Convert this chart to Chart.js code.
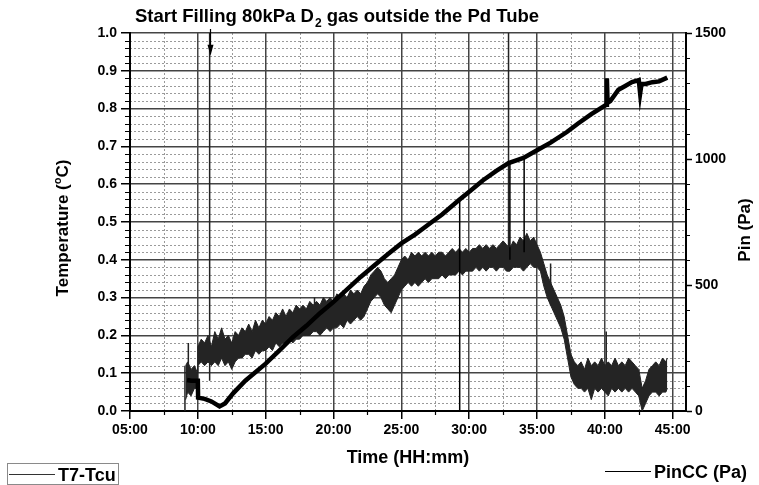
<!DOCTYPE html>
<html>
<head>
<meta charset="utf-8">
<script src="https://cdn.jsdelivr.net/npm/chart.js@4.4.0/dist/chart.umd.min.js"></script>
<style>
  html, body { margin: 0; padding: 0; background: #fff; }
  canvas { display: block; }
</style>
</head>
<body>
<canvas id="chart" width="759" height="485"></canvas>
<script>
// axis ticks (time in hours, shown as HH:mm)
const xTicks = [5, 10, 15, 20, 25, 30, 35, 40, 45];
const xTickLabels = ['05:00', '10:00', '15:00', '20:00', '25:00', '30:00', '35:00', '40:00', '45:00'];
const yTicks = [0, 0.1, 0.2, 0.3, 0.4, 0.5, 0.6, 0.7, 0.8, 0.9, 1.0];
const yTickLabels = ['0.0', '0.1', '0.2', '0.3', '0.4', '0.5', '0.6', '0.7', '0.8', '0.9', '1.0'];
const y2Ticks = [0, 500, 1000, 1500];
const y2TickLabels = ['0', '500', '1000', '1500'];

// PinCC (Pa), right axis
const pinTime = [9.2, 9.5, 10.0, 10.02, 10.5, 11.0, 11.6, 12.0, 12.6, 13.5,
  15.0, 16.0, 17.0, 18.0, 19.0, 20.0, 21.0, 22.0, 23.0, 24.0,
  25.0, 26.0, 27.0, 28.0, 29.25, 30.0, 31.0, 32.0, 32.9, 34.0,
  35.0, 36.0, 37.2, 38.0, 39.0, 40.1, 40.15, 40.2, 40.4, 41.0,
  41.5, 42.0, 42.5, 42.6, 42.7, 43.0, 43.5, 44.0, 44.6];
const pinPa = [123, 120, 120, 53, 48, 38, 18, 30, 70, 120,
  188, 240, 293, 338, 388, 433, 483, 532, 577, 622,
  665, 700, 740, 780, 837, 870, 915, 953, 984, 1004,
  1035, 1065, 1107, 1140, 1178, 1215, 1320, 1223, 1230, 1275,
  1290, 1305, 1313, 1260, 1298, 1298, 1305, 1308, 1323];
const pinSpikeTime = [29.3, 33.0, 34.05];
const pinSpikeFrom = [840, 985, 1005];
const pinSpikeTo = [0, 600, 630];

// T7-Tcu (°C), left axis: upper / lower edge of the noisy trace
const t7Time = [9.1, 9.25, 9.5, 9.75, 9.98, 10.0, 10.25, 10.5, 10.75, 11.0,
  11.25, 11.5, 11.75, 12.0, 12.25, 12.5, 12.75, 13.0, 13.25, 13.5,
  13.75, 14.0, 14.25, 14.5, 14.75, 15.0, 15.25, 15.5, 15.75, 16.0,
  16.25, 16.5, 16.75, 17.0, 17.25, 17.5, 17.75, 18.0, 18.25, 18.5,
  18.75, 19.0, 19.25, 19.5, 19.75, 20.0, 20.25, 20.5, 20.75, 21.0,
  21.25, 21.5, 21.75, 22.0, 22.25, 22.5, 22.75, 23.0, 23.25, 23.5,
  23.75, 24.0, 24.25, 24.5, 24.75, 25.0, 25.25, 25.5, 25.75, 26.0,
  26.25, 26.5, 26.75, 27.0, 27.25, 27.5, 27.75, 28.0, 28.25, 28.5,
  28.75, 29.0, 29.25, 29.5, 29.75, 30.0, 30.25, 30.5, 30.75, 31.0,
  31.25, 31.5, 31.75, 32.0, 32.25, 32.5, 32.75, 33.0, 33.25, 33.5,
  33.75, 34.0, 34.25, 34.5, 34.75, 35.0, 35.25, 35.5, 35.75, 36.0,
  36.25, 36.5, 36.75, 37.0, 37.25, 37.5, 37.75, 38.0, 38.25, 38.5,
  38.75, 39.0, 39.25, 39.5, 39.75, 40.0, 40.25, 40.5, 40.75, 41.0,
  41.25, 41.5, 41.75, 42.0, 42.25, 42.5, 42.75, 43.0, 43.25, 43.5,
  43.75, 44.0, 44.25, 44.5, 44.6];
const t7High = [.12, .13, .11, .12, .10, .17, .19, .18, .20, .17,
  .21, .19, .22, .19, .20, .18, .21, .20, .22, .21,
  .23, .21, .24, .22, .24, .23, .25, .24, .26, .25,
  .27, .25, .27, .26, .28, .27, .28, .27, .29, .28,
  .29, .28, .30, .29, .30, .29, .31, .30, .31, .30,
  .32, .31, .32, .31, .33, .34, .36, .37, .38, .37,
  .35, .34, .35, .36, .38, .40, .41, .40, .42, .41,
  .42, .41, .42, .41, .42, .41, .42, .42, .41, .42,
  .43, .42, .43, .42, .43, .42, .43, .43, .44, .43,
  .44, .43, .44, .43, .44, .45, .44, .43, .45, .44,
  .46, .45, .47, .45, .46, .44, .42, .39, .36, .34,
  .32, .30, .28, .25, .20, .15, .13, .12, .13, .11,
  .14, .12, .13, .12, .14, .12, .13, .12, .14, .12,
  .13, .12, .14, .13, .12, .11, .06, .08, .11, .12,
  .13, .12, .14, .13, .14];
const t7Low = [.03, .05, .04, .06, .06, .12, .13, .12, .13, .12,
  .13, .12, .14, .12, .13, .11, .13, .14, .14, .15,
  .15, .14, .16, .15, .16, .16, .17, .16, .18, .17,
  .18, .18, .19, .18, .19, .19, .20, .20, .20, .21,
  .21, .20, .21, .22, .21, .22, .22, .23, .22, .24,
  .23, .24, .25, .24, .25, .27, .29, .30, .31, .30,
  .28, .27, .26, .28, .30, .32, .33, .34, .33, .34,
  .33, .34, .35, .34, .35, .35, .35, .36, .35, .36,
  .36, .36, .37, .36, .37, .37, .37, .38, .37, .38,
  .37, .38, .38, .37, .38, .38, .37, .37, .38, .38,
  .38, .37, .38, .39, .38, .38, .37, .33, .30, .28,
  .26, .24, .22, .19, .14, .09, .07, .06, .06, .05,
  .06, .03, .06, .05, .06, .05, .04, .06, .05, .06,
  .05, .06, .05, .06, .05, .04, .00, .02, .04, .05,
  .05, .04, .05, .05, .06];
const t7SpikeTime = [9.05, 9.3, 10.87, 18.6, 32.9, 36.0, 40.1];
const t7SpikeFrom = [0.0, 0.05, 0.08, 0.22, 0.37, 0.28, 0.10];
const t7SpikeTo = [0.12, 0.18, 1.05, 0.30, 1.05, 0.39, 0.21];

// "start filling" arrow
const arrowTime = 10.87;
const arrowTip = 0.94;

const FONT = '"Liberation Sans", Arial, Helvetica, sans-serif';

function xy(times, vals) {
  return times.map((t, i) => ({ x: t, y: vals[i] }));
}
function spikes(times, from, to) {
  const pts = [];
  times.forEach((t, i) => {
    pts.push({ x: t, y: from[i] }, { x: t, y: to[i] }, { x: t, y: null });
  });
  return pts;
}

const extras = {
  id: 'extras',
  beforeDraw(chart) {
    const { ctx, chartArea: a, scales: { x, y } } = chart;
    ctx.save();
    ctx.fillStyle = '#fff';
    ctx.fillRect(0, 0, chart.width, chart.height);
    // dotted minor grid
    ctx.strokeStyle = '#9a9a9a';
    ctx.lineWidth = 1;
    ctx.setLineDash([2, 2]);
    ctx.beginPath();
    for (let v = 7.5; v < 46; v += 5) {
      const px = Math.round(x.getPixelForValue(v)) + 0.5;
      ctx.moveTo(px, a.top); ctx.lineTo(px, a.bottom);
    }
    for (let k = 1; k < 50; k++) {
      if (k % 5 === 0) continue;
      const py = Math.round(y.getPixelForValue(k * 0.02)) + 0.5;
      ctx.moveTo(a.left, py); ctx.lineTo(a.right, py);
    }
    ctx.stroke();
    ctx.restore();
  },
  afterDraw(chart) {
    const { ctx, chartArea: a, scales: { x, y, y2 } } = chart;
    ctx.save();
    // minor ticks
    ctx.strokeStyle = '#000';
    ctx.lineWidth = 1.2;
    ctx.beginPath();
    for (let v = 7.5; v < 46; v += 5) {
      const px = Math.round(x.getPixelForValue(v)) + 0.5;
      ctx.moveTo(px, a.bottom); ctx.lineTo(px, a.bottom + 4);
    }
    for (let k = 1; k < 50; k++) {
      if (k % 5 === 0) continue;
      const py = Math.round(y.getPixelForValue(k * 0.02)) + 0.5;
      ctx.moveTo(a.left, py); ctx.lineTo(a.left - 5, py);
    }
    for (let p = 100; p < 1500; p += 100) {
      if (p % 500 === 0) continue;
      const py = Math.round(y2.getPixelForValue(p)) + 0.5;
      ctx.moveTo(a.right, py); ctx.lineTo(a.right + 4, py);
    }
    ctx.stroke();

    // arrow
    const ax = Math.round(x.getPixelForValue(arrowTime)) + 0.5;
    const tipY = y.getPixelForValue(arrowTip);
    ctx.lineWidth = 1.2;
    ctx.beginPath();
    ctx.moveTo(ax, a.top - 4); ctx.lineTo(ax, tipY - 8);
    ctx.stroke();
    ctx.fillStyle = '#000';
    ctx.beginPath();
    ctx.moveTo(ax - 3, tipY - 11); ctx.lineTo(ax + 3, tipY - 11); ctx.lineTo(ax, tipY);
    ctx.closePath(); ctx.fill();

    ctx.fillStyle = '#000';
    ctx.textBaseline = 'alphabetic';
    // title with subscript
    let tx = 135;
    const ty = 22;
    ctx.textAlign = 'left';
    ctx.font = 'bold 18.5px ' + FONT;
    const t1 = 'Start Filling 80kPa D';
    ctx.fillText(t1, tx, ty);
    tx += ctx.measureText(t1).width + 1;
    ctx.font = 'bold 12px ' + FONT;
    ctx.fillText('2', tx, ty + 5);
    tx += ctx.measureText('2').width;
    ctx.font = 'bold 18.5px ' + FONT;
    ctx.fillText(' gas outside the Pd Tube', tx, ty);

    // x title
    ctx.textAlign = 'center';
    ctx.font = 'bold 18px ' + FONT;
    ctx.fillText('Time (HH:mm)', (a.left + a.right) / 2, 463);

    // left title with superscript
    ctx.save();
    ctx.translate(68, 228);
    ctx.rotate(-Math.PI / 2);
    ctx.textAlign = 'left';
    ctx.font = 'bold 17px ' + FONT;
    const l1 = 'Temperature (', l3 = 'C)';
    const w1 = ctx.measureText(l1).width, w3 = ctx.measureText(l3).width;
    ctx.font = 'bold 11px ' + FONT;
    const w2 = ctx.measureText('o').width;
    let lx = -(w1 + w2 + w3) / 2;
    ctx.font = 'bold 17px ' + FONT;
    ctx.fillText(l1, lx, 0); lx += w1;
    ctx.font = 'bold 11px ' + FONT;
    ctx.fillText('o', lx, -7); lx += w2;
    ctx.font = 'bold 17px ' + FONT;
    ctx.fillText(l3, lx, 0);
    ctx.restore();

    // right title
    ctx.save();
    ctx.translate(750, 230);
    ctx.rotate(-Math.PI / 2);
    ctx.textAlign = 'center';
    ctx.font = 'bold 17px ' + FONT;
    ctx.fillText('Pin (Pa)', 0, 0);
    ctx.restore();

    // legends
    ctx.textAlign = 'left';
    ctx.strokeStyle = '#8a8a8a';
    ctx.lineWidth = 1;
    ctx.strokeRect(7.5, 463.5, 111, 21);
    ctx.strokeStyle = '#333';
    ctx.beginPath(); ctx.moveTo(9, 474.5); ctx.lineTo(55, 474.5); ctx.stroke();
    ctx.font = 'bold 18px ' + FONT;
    ctx.fillText('T7-Tcu', 58, 481);

    ctx.strokeStyle = '#000';
    ctx.beginPath(); ctx.moveTo(605, 471.5); ctx.lineTo(651, 471.5); ctx.stroke();
    ctx.fillText('PinCC (Pa)', 654, 478);
    ctx.restore();
  }
};

const tickFont = { family: FONT, size: 14, weight: 'bold' };

new Chart(document.getElementById('chart'), {
  type: 'line',
  data: {
    datasets: [
      { label: 'PinCC (Pa)', yAxisID: 'y2', data: xy(pinTime, pinPa),
        borderColor: '#000', borderWidth: 4.5, order: 0 },
      { label: 'PinCC spikes', yAxisID: 'y2', data: spikes(pinSpikeTime, pinSpikeFrom, pinSpikeTo),
        borderColor: '#000', borderWidth: 1.5, order: 0, clip: 0 },
      { label: 'T7-Tcu', yAxisID: 'y', data: xy(t7Time, t7High),
        borderColor: '#222', backgroundColor: '#242424', borderWidth: 1, fill: '+1', order: 1 },
      { label: 'T7-Tcu low', yAxisID: 'y', data: xy(t7Time, t7Low),
        borderColor: '#222', borderWidth: 1, fill: false, order: 1 },
      { label: 'T7-Tcu spikes', yAxisID: 'y', data: spikes(t7SpikeTime, t7SpikeFrom, t7SpikeTo),
        borderColor: '#222', borderWidth: 1.5, order: 1, clip: 0 }
    ]
  },
  options: {
    responsive: false,
    animation: false,
    layout: { padding: { top: 33, left: 0, right: 0, bottom: 0 } },
    plugins: { legend: { display: false }, title: { display: false }, tooltip: { enabled: false } },
    elements: { point: { radius: 0 }, line: { tension: 0 } },
    scales: {
      x: {
        type: 'linear', position: 'bottom', min: 5, max: 45.98,
        afterBuildTicks: s => { s.ticks = xTicks.map(v => ({ value: v })); },
        afterFit: s => { s.height = 74; },
        ticks: { callback: (v, i) => xTickLabels[i], font: tickFont, color: '#000',
          padding: 3, maxRotation: 0, autoSkip: false },
        grid: { color: '#444', lineWidth: 1.5, tickLength: 8, tickColor: '#000', tickWidth: 1.5 },
        border: { color: '#000', width: 2 }
      },
      y: {
        type: 'linear', position: 'left', min: 0, max: 1,
        afterBuildTicks: s => { s.ticks = yTicks.map(v => ({ value: v })); },
        afterFit: s => { s.width = 130; },
        ticks: { callback: (v, i) => yTickLabels[i], font: tickFont, color: '#000', padding: 4, autoSkip: false },
        grid: { color: '#444', lineWidth: 1.5, tickLength: 9, tickColor: '#000', tickWidth: 1.5 },
        border: { color: '#000', width: 2 }
      },
      y2: {
        type: 'linear', position: 'right', min: 0, max: 1500,
        afterBuildTicks: s => { s.ticks = y2Ticks.map(v => ({ value: v })); },
        afterFit: s => { s.width = 73; },
        ticks: { callback: (v, i) => y2TickLabels[i], font: tickFont, color: '#000', padding: 3, autoSkip: false },
        grid: { drawOnChartArea: false, tickLength: 6, tickColor: '#000', tickWidth: 1.5 },
        border: { color: '#000', width: 2 }
      }
    }
  },
  plugins: [extras]
});
</script>
</body>
</html>
